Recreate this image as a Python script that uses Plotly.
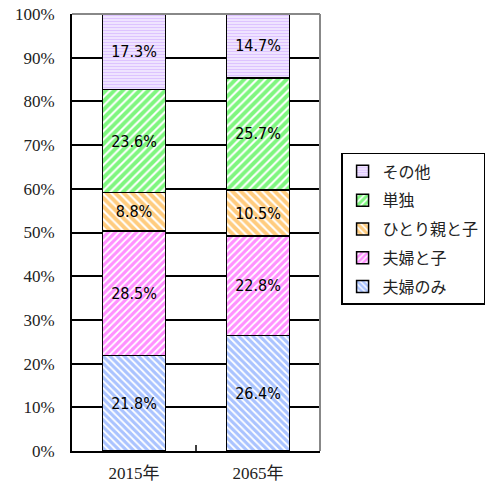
import plotly.graph_objects as go

categories = ["2015年", "2065年"]
series_names = ["夫婦のみ", "夫婦と子", "ひとり親と子", "単独", "その他"]
fuufu_nomi = [21.8, 26.4]
fuufu_to_ko = [28.5, 22.8]
hitorioya = [8.8, 10.5]
tandoku = [23.6, 25.7]
sonota = [17.3, 14.7]
values = [fuufu_nomi, fuufu_to_ko, hitorioya, tandoku, sonota]
colors = ["#5588FF", "#FF22FF", "#FF9900", "#00EE00", "#BB88FF"]
shapes = ["\\", "/", "\\", "/", "-"]
sizes = [5, 5, 6, 6, 3]
tick_vals = list(range(0, 101, 10))
tick_text = [f"{v}%" for v in tick_vals]

fig = go.Figure()
for i, (name, vals, c, sh, sz) in enumerate(zip(series_names, values, colors, shapes, sizes)):
    fig.add_trace(go.Bar(
        x=categories, y=vals, name=name, legendgroup=name,
        legendrank=1000 - i,
        text=[f"{v:.1f}%" for v in vals],
        textposition="inside", insidetextanchor="middle",
        textfont=dict(family="DejaVu Sans Condensed, Liberation Sans Narrow, Liberation Sans, sans-serif", size=16, color="black"),
        marker=dict(color="white", line=dict(color="black", width=1.5),
                    pattern=dict(shape=sh, fgcolor=c, bgcolor="white", size=sz, solidity=0.65)),
    ))

fig.update_layout(
    barmode="stack", bargap=0.49,
    width=493, height=493,
    margin=dict(l=72, r=173, t=14, b=42, autoexpand=False),
    plot_bgcolor="white", paper_bgcolor="white",
    legend=dict(traceorder="grouped", x=1.085, y=0.682, xanchor="left", yanchor="top",
                bordercolor="black", borderwidth=1.5,
                font=dict(family="Noto Sans CJK JP, sans-serif", size=16, color="#222222"),
                itemwidth=30, tracegroupgap=5),
    showlegend=True,
)
fig.update_yaxes(range=[0, 100], tickvals=tick_vals, ticktext=tick_text,
                 showgrid=True, gridcolor="black", gridwidth=1.5,
                 showline=True, linecolor="black", linewidth=2, ticks="",
                 ticklabelstandoff=12,
                 tickfont=dict(family="Liberation Serif, serif", size=17, color="#222222"))
fig.update_xaxes(showline=True, linecolor="black", linewidth=2,
                 ticks="", mirror=False, ticklabelstandoff=6,
                 tickfont=dict(family="Liberation Serif, Noto Sans CJK JP, serif", size=17, color="#222222"))
fig.add_shape(type="line", xref="paper", yref="paper", x0=0, x1=1, y0=1, y1=1,
              line=dict(color="#888888", width=2))
fig.add_shape(type="line", xref="paper", yref="paper", x0=1, x1=1, y0=0, y1=1,
              line=dict(color="#888888", width=2))
fig.add_shape(type="line", xref="x", yref="paper", x0=0.5, x1=0.5, y0=0, y1=0.014,
              line=dict(color="black", width=1.5))
fig.write_html("out.html", config={"displayModeBar": False},
               post_script="document.body.style.margin='0';")
